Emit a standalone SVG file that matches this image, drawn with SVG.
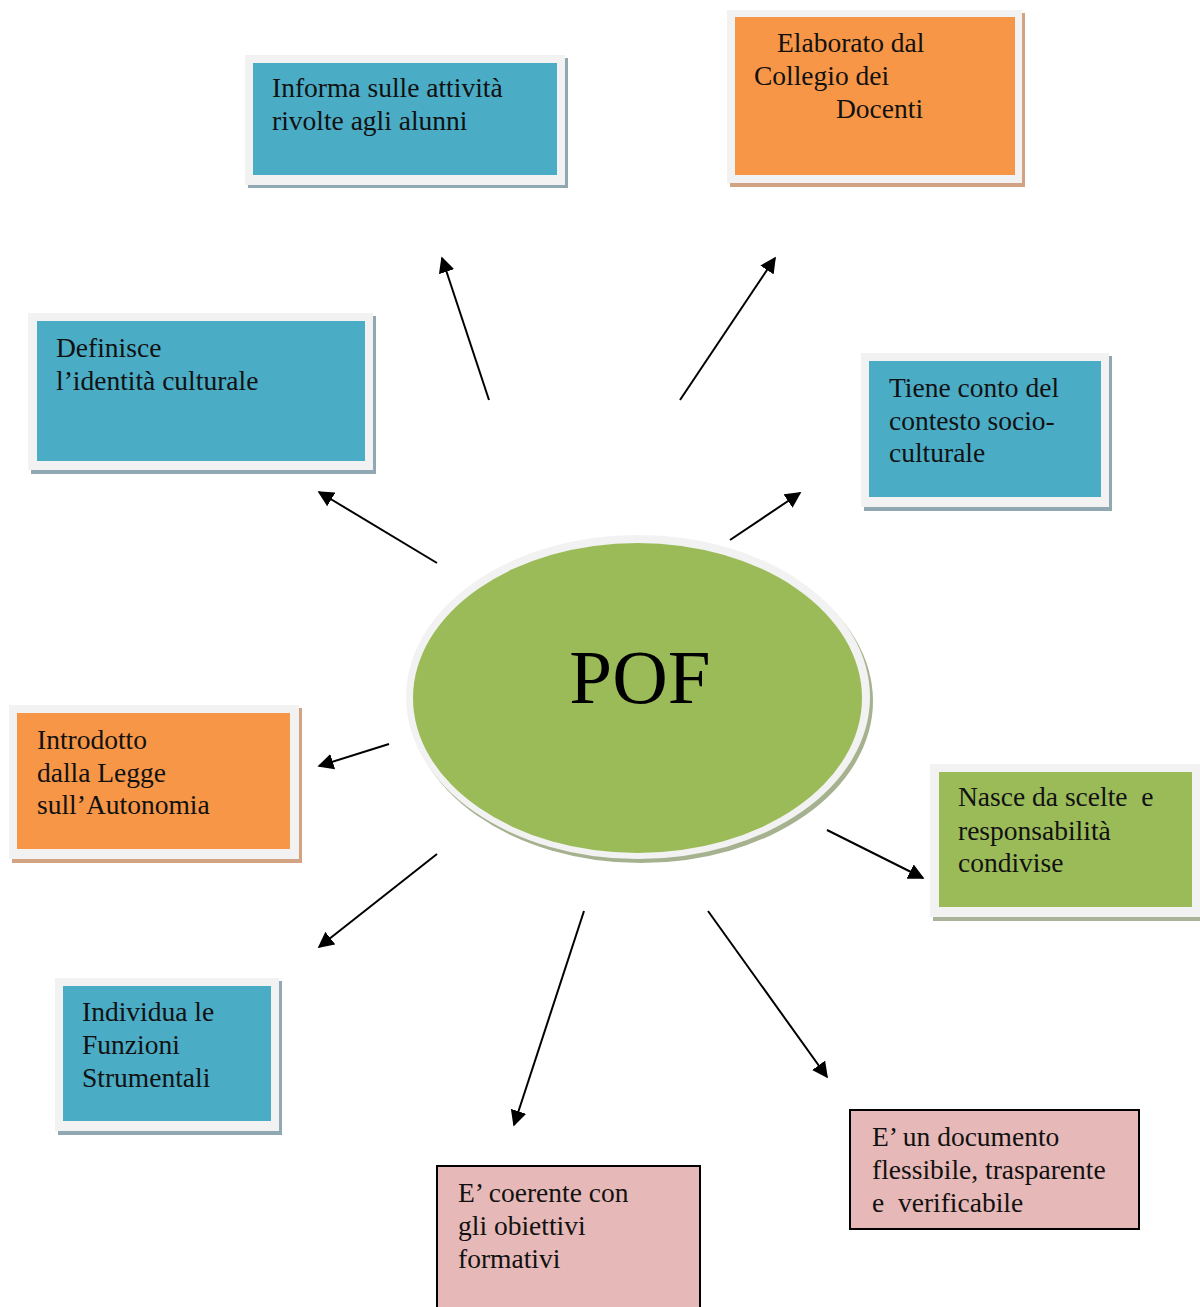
<svg xmlns="http://www.w3.org/2000/svg" width="1200" height="1307" viewBox="0 0 1200 1307">
<defs>
<style>
.t{font-family:"Liberation Serif","Times New Roman",serif;font-size:27.5px;fill:#111;}
.frame{fill:#f2f2f2;}
.shB{fill:#8fa8b2;}
.shO{fill:#d2a383;}
.shG{fill:#a8b39a;}
.blue{fill:#4bacc6;}
.orange{fill:#f79646;}
.green{fill:#9bbb59;}
.pink{fill:#e6b8b7;stroke:#000;stroke-width:2;}
.c{stroke:#000;stroke-width:2;fill:none;marker-end:url(#ah);}
</style>
<marker id="ah" viewBox="0 0 10 10" refX="9" refY="5" markerWidth="8" markerHeight="8" markerUnits="strokeWidth" orient="auto">
<path d="M0,0 L10,5 L0,10 z" fill="#000"/>
</marker>
</defs>
<rect width="1200" height="1307" fill="#fff"/>

<g id="connectors">
<line class="c" x1="489" y1="400" x2="442" y2="258"/>
<line class="c" x1="680" y1="400" x2="775" y2="258"/>
<line class="c" x1="730" y1="540" x2="800" y2="493"/>
<line class="c" x1="437" y1="563" x2="319" y2="492"/>
<line class="c" x1="389" y1="744" x2="319" y2="766"/>
<line class="c" x1="827" y1="830" x2="923" y2="878"/>
<line class="c" x1="437" y1="854" x2="319" y2="947"/>
<line class="c" x1="584" y1="911" x2="514" y2="1125"/>
<line class="c" x1="708" y1="911" x2="827" y2="1077"/>
</g>

<g id="pof">
<ellipse cx="641" cy="701" rx="232" ry="162" fill="#a6b28f"/>
<ellipse cx="638" cy="697" rx="232" ry="162" fill="#f2f2f2"/>
<ellipse cx="637.5" cy="698" rx="224.5" ry="155" class="green"/>
<text x="640" y="703" text-anchor="middle" style="font-family:'Liberation Serif','Times New Roman',serif;font-size:77px;fill:#000;">POF</text>
</g>

<g id="n-informa">
<rect x="248" y="58" width="320" height="130" class="shB"/>
<rect x="245" y="55" width="320" height="130" class="frame"/>
<rect x="253" y="63" width="304" height="112" class="blue"/>
<text class="t" x="272" y="97">Informa sulle attività</text>
<text class="t" x="272" y="130">rivolte agli alunni</text>
</g>

<g id="n-elaborato">
<rect x="730" y="13" width="295" height="174" class="shO"/>
<rect x="727" y="10" width="295" height="173" class="frame"/>
<rect x="735" y="17" width="280" height="158" class="orange"/>
<text class="t" x="777" y="52">Elaborato dal</text>
<text class="t" x="754" y="85">Collegio dei</text>
<text class="t" x="836" y="118">Docenti</text>
</g>

<g id="n-definisce">
<rect x="31" y="316" width="345" height="158" class="shB"/>
<rect x="28" y="313" width="345" height="157" class="frame"/>
<rect x="37" y="321" width="328" height="140" class="blue"/>
<text class="t" x="56" y="357">Definisce</text>
<text class="t" x="56" y="390">l’identità culturale</text>
</g>

<g id="n-tiene">
<rect x="864" y="356" width="248" height="155" class="shB"/>
<rect x="861" y="353" width="248" height="154" class="frame"/>
<rect x="869" y="361" width="232" height="136" class="blue"/>
<text class="t" x="889" y="397">Tiene conto del</text>
<text class="t" x="889" y="430">contesto socio-</text>
<text class="t" x="889" y="462">culturale</text>
</g>

<g id="n-introdotto">
<rect x="12" y="708" width="290" height="155" class="shO"/>
<rect x="9" y="705" width="290" height="154" class="frame"/>
<rect x="17" y="713" width="273" height="136" class="orange"/>
<text class="t" x="37" y="749">Introdotto</text>
<text class="t" x="37" y="782">dalla Legge</text>
<text class="t" x="37" y="814">sull’Autonomia</text>
</g>

<g id="n-nasce">
<rect x="933" y="767" width="270" height="154" class="shG"/>
<rect x="930" y="764" width="270" height="153" class="frame"/>
<rect x="939" y="772" width="253" height="135" class="green"/>
<text class="t" x="958" y="806" xml:space="preserve">Nasce da scelte  e</text>
<text class="t" x="958" y="840">responsabilità</text>
<text class="t" x="958" y="872">condivise</text>
</g>

<g id="n-individua">
<rect x="58" y="981" width="224" height="154" class="shB"/>
<rect x="55" y="978" width="224" height="153" class="frame"/>
<rect x="63" y="986" width="208" height="135" class="blue"/>
<text class="t" x="82" y="1021">Individua le</text>
<text class="t" x="82" y="1054">Funzioni</text>
<text class="t" x="82" y="1087">Strumentali</text>
</g>

<g id="n-documento">
<rect x="850" y="1110" width="289" height="119" class="pink"/>
<text class="t" x="872" y="1146">E’ un documento</text>
<text class="t" x="872" y="1179">flessibile, trasparente</text>
<text class="t" x="872" y="1212" xml:space="preserve">e  verificabile</text>
</g>

<g id="n-coerente">
<rect x="437" y="1166" width="263" height="150" class="pink"/>
<text class="t" x="458" y="1202">E’ coerente con</text>
<text class="t" x="458" y="1235">gli obiettivi</text>
<text class="t" x="458" y="1268">formativi</text>
</g>
</svg>
